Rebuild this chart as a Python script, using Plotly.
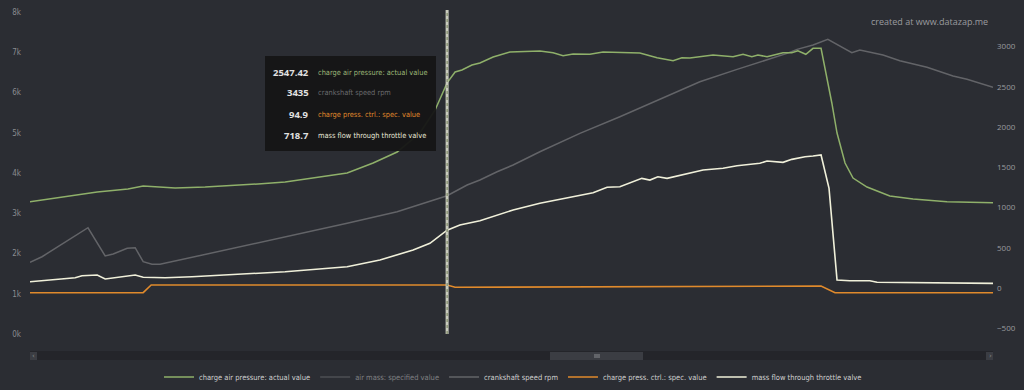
import plotly.graph_objects as go

# ---------------- data ----------------
# time in seconds
t_pressure = [0.00, 1.45, 1.68, 2.45, 2.83, 3.63, 4.38, 5.70, 6.38, 7.93, 8.58, 9.18, 9.75, 10.13,
              10.43, 10.63, 10.80, 11.05, 11.25, 11.58, 12.00, 12.75, 13.08, 13.33, 13.58, 14.00,
              14.33, 15.25, 15.68, 16.08, 16.30, 16.50, 17.08, 17.58, 17.83, 18.05, 18.20, 18.43,
              18.83, 19.05, 19.20, 19.40, 19.58, 19.78, 19.93, 20.05, 20.18, 20.38, 20.58, 20.93,
              21.50, 22.08, 22.93, 24.08]
charge_air_pressure = [1072, 1180, 1193, 1230, 1267, 1242, 1254, 1292, 1317, 1428, 1553, 1689, 1925, 2211,
                       2547.42, 2683, 2708, 2770, 2795, 2869, 2931, 2944, 2922, 2885, 2906, 2903,
                       2931, 2919, 2860, 2823, 2860, 2857, 2894, 2873, 2903, 2873, 2894, 2873,
                       2922, 2922, 2947, 2903, 2977, 2977, 2624, 2298, 1925, 1553, 1366, 1254,
                       1143, 1105, 1072, 1059]

t_rpm = [0.00, 0.30, 0.70, 1.45, 1.88, 2.08, 2.43, 2.63, 2.83, 3.05, 3.25, 3.63, 4.88, 6.38, 7.93,
         9.18, 10.00, 10.43, 10.93, 11.25, 11.68, 12.08, 12.75, 13.75, 14.75, 16.08, 16.75, 17.68,
         18.43, 18.93, 19.18, 19.58, 19.95, 20.55, 20.75, 21.33, 21.75, 22.43, 23.08, 23.43, 24.08]
crankshaft_rpm = [1781, 1920, 2169, 2640, 1938, 1987, 2129, 2144, 1796, 1731, 1731, 1813, 2087, 2402, 2750,
                  3038, 3286, 3435, 3701, 3825, 4032, 4198, 4528, 4985, 5398, 5979, 6267, 6575,
                  6806, 6973, 7072, 7179, 7320, 6988, 7055, 6930, 6789, 6625, 6409, 6327, 6128]

t_massflow = [0.00, 0.70, 1.13, 1.30, 1.68, 1.88, 2.25, 2.63, 2.83, 3.38, 4.05, 6.38, 7.93, 8.75,
              9.58, 10.00, 10.43, 10.75, 11.25, 12.08, 12.75, 13.25, 13.68, 14.08, 14.43, 14.75,
              15.30, 15.50, 15.70, 15.93, 16.83, 17.33, 17.68, 18.25, 18.43, 18.83, 19.05, 19.38,
              19.58, 19.78, 19.98, 20.18, 20.50, 21.00, 21.18, 24.08]
mass_flow = [78, 112, 128, 153, 161, 112, 140, 161, 133, 128, 140, 202, 265, 348,
             472, 555, 718.7, 782, 836, 969, 1052, 1102, 1143, 1184, 1251, 1258,
             1362, 1341, 1382, 1362, 1466, 1487, 1519, 1549, 1577, 1561, 1598, 1631,
             1639, 1652, 1238, 99, 91, 91, 71, 58]

t_ctrl = [0.00, 2.83, 3.03, 10.43, 10.63, 12.75, 18.75, 19.78, 20.13, 24.08]
charge_ctrl_spec = [0, 0, 95, 94.9, 67, 70, 74.5, 83, 0, 0]

# hidden series (legend only) - placeholder
t_airmass = [0.0]
air_mass_spec = [0.0]

left_ticks = [0, 1000, 2000, 3000, 4000, 5000, 6000, 7000, 8000]
left_labels = ["0k", "1k", "2k", "3k", "4k", "5k", "6k", "7k", "8k"]
right_ticks = [-500, 0, 500, 1000, 1500, 2000, 2500, 3000]

cursor_t = 10.43
tooltip_rows = [("2547.42", "charge air pressure: actual value", "#9cb877"),
                ("3435", "crankshaft speed rpm", "#6a6b6e"),
                ("94.9", "charge press. ctrl.: spec. value", "#e08a2c"),
                ("718.7", "mass flow through throttle valve", "#e8e8d8")]

# ---------------- layout helpers ----------------
W, H = 1024, 390
L, R, T, B = 30, 993, 12, 334


def px(x):
    return (x - L) / (R - L)


def py(y):
    return (B - y) / (B - T)


BG = "#2b2d33"
FONT = "Liberation Sans Narrow, DejaVu Sans Condensed, Arial Narrow, sans-serif"

fig = go.Figure()
fig.add_trace(go.Scatter(x=t_pressure, y=charge_air_pressure, name="charge air pressure: actual value",
                         mode="lines", line=dict(color="#8fb06a", width=1.5), yaxis="y2"))
fig.add_trace(go.Scatter(x=t_airmass, y=air_mass_spec, name="air mass: specified value",
                         mode="lines", line=dict(color="#707176", width=1.5), yaxis="y2",
                         visible="legendonly"))
fig.add_trace(go.Scatter(x=t_rpm, y=crankshaft_rpm, name="crankshaft speed rpm",
                         mode="lines", line=dict(color="#636468", width=1.5), yaxis="y"))
fig.add_trace(go.Scatter(x=t_ctrl, y=charge_ctrl_spec, name="charge press. ctrl.: spec. value",
                         mode="lines", line=dict(color="#e08a2c", width=1.6), yaxis="y3"))
fig.add_trace(go.Scatter(x=t_massflow, y=mass_flow, name="mass flow through throttle valve",
                         mode="lines", line=dict(color="#f0f0da", width=1.6), yaxis="y2"))

shapes = []
# cursor line
shapes.append(dict(type="line", xref="x", yref="paper", x0=cursor_t, x1=cursor_t,
                   y0=py(334), y1=py(10), line=dict(color="#c9cbbd", width=3)))
shapes.append(dict(type="line", xref="x", yref="paper", x0=cursor_t, x1=cursor_t,
                   y0=py(334), y1=py(10), line=dict(color="#6f7d55", width=1, dash="dot")))
# tooltip box
shapes.append(dict(type="rect", xref="paper", yref="paper", x0=px(265), x1=px(436),
                   y0=py(151), y1=py(56), fillcolor="#161616", line=dict(width=0), opacity=0.96))
# scrollbar
shapes.append(dict(type="rect", xref="paper", yref="paper", x0=px(30), x1=px(993),
                   y0=py(360), y1=py(351), fillcolor="#24252a", line=dict(width=0)))
shapes.append(dict(type="rect", xref="paper", yref="paper", x0=px(550), x1=px(643),
                   y0=py(360), y1=py(352), fillcolor="#3b3d43", line=dict(width=0)))
shapes.append(dict(type="rect", xref="paper", yref="paper", x0=px(30), x1=px(37),
                   y0=py(360), y1=py(352), fillcolor="#3b3d43", line=dict(width=0)))
shapes.append(dict(type="rect", xref="paper", yref="paper", x0=px(986), x1=px(993),
                   y0=py(360), y1=py(352), fillcolor="#3b3d43", line=dict(width=0)))
for gx in (595, 597, 599):
    shapes.append(dict(type="line", xref="paper", yref="paper", x0=px(gx), x1=px(gx),
                       y0=py(358), y1=py(354), line=dict(color="#8a8c90", width=1)))

annotations = []
for i, (val, label, col) in enumerate(tooltip_rows):
    yy = py(72 + i * 21)
    annotations.append(dict(xref="paper", yref="paper", x=px(311), y=yy, xanchor="right",
                            yanchor="middle", text="<b>%s</b>" % val, showarrow=False,
                            font=dict(family="Open Sans, sans-serif", size=9.5, color="#e0e0e0")))
    annotations.append(dict(xref="paper", yref="paper", x=px(316), y=yy, xanchor="left",
                            yanchor="middle", text=label, showarrow=False,
                            font=dict(family=FONT, size=7.4, color=col)))
annotations.append(dict(xref="paper", yref="paper", x=px(990), y=py(22), xanchor="right",
                        yanchor="middle", text="created at www.datazap.me", showarrow=False,
                        font=dict(family="Open Sans, sans-serif", size=9, color="#9a9b9f")))
annotations.append(dict(xref="paper", yref="paper", x=px(33), y=py(356), xanchor="center",
                        yanchor="middle", text="‹", showarrow=False,
                        font=dict(family="DejaVu Sans", size=7, color="#888")))
annotations.append(dict(xref="paper", yref="paper", x=px(990), y=py(356), xanchor="center",
                        yanchor="middle", text="›", showarrow=False,
                        font=dict(family="DejaVu Sans", size=7, color="#888")))

fig.update_layout(
    width=W, height=H,
    margin=dict(l=L, r=W - R, t=T, b=H - B, autoexpand=False),
    paper_bgcolor=BG, plot_bgcolor=BG,
    font=dict(family=FONT, size=8, color="#cfcfcf"),
    showlegend=True,
    legend=dict(orientation="h", x=px(513), xanchor="center", y=py(377), yanchor="middle",
                font=dict(family=FONT, size=7.5, color="#cfcfcf"), itemwidth=30,
                bgcolor="rgba(0,0,0,0)"),
    xaxis=dict(range=[0, 24.08], visible=False, showgrid=False, zeroline=False),
    yaxis=dict(range=[0, 8000], tickvals=left_ticks, ticktext=left_labels, showgrid=False,
               zeroline=False, showline=False, ticks="", ticklabelstandoff=8, automargin=False,
               tickfont=dict(family="DejaVu Sans Condensed, sans-serif", size=8, color="#8a8b8f")),
    yaxis2=dict(range=[-571, 3428], tickvals=right_ticks, overlaying="y", side="right",
                showgrid=False, zeroline=False, showline=False, ticks="", ticklabelstandoff=3,
                automargin=False,
                tickfont=dict(family="Open Sans, sans-serif", size=8, color="#9a9b9f")),
    yaxis3=dict(range=[-513, 3486], overlaying="y", side="right", visible=False,
                showgrid=False, zeroline=False),
    shapes=shapes,
    annotations=annotations,
    hovermode=False,
)

fig.write_html("out.html", config={"displayModeBar": False},
               post_script="document.body.style.margin='0';document.body.style.overflow='hidden';")
